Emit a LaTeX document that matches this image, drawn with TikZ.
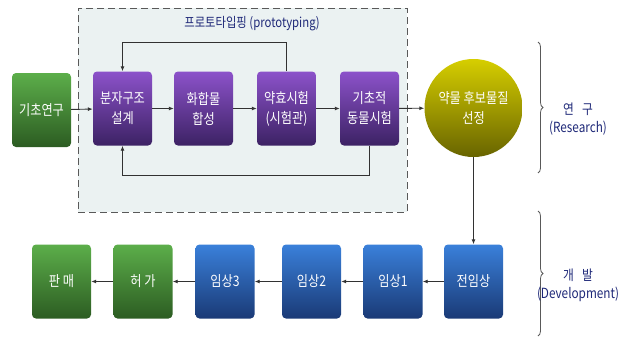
\documentclass[tikz,border=0pt]{standalone}
\usepackage{fontspec}
\setmainfont[FakeStretch=0.84]{Noto Sans CJK KR}
\usetikzlibrary{arrows.meta,decorations.pathreplacing,calc}
\definecolor{navy}{RGB}{30,40,120}
\definecolor{lnk}{RGB}{50,50,50}
\definecolor{protofill}{RGB}{235,242,242}
\tikzset{
  box/.style={rounded corners=4pt, minimum width=59pt, minimum height=74pt, inner sep=0pt,
     text=white, font=\fontsize{14.5}{20}\selectfont, align=center},
  purplebox/.style={box, top color={rgb,255:red,140;green,82;blue,202}, bottom color={rgb,255:red,60;green,34;blue,100}},
  greenbox/.style={box, top color={rgb,255:red,92;green,174;blue,74}, bottom color={rgb,255:red,44;green,92;blue,34}},
  bluebox/.style={box, top color={rgb,255:red,58;green,128;blue,218}, bottom color={rgb,255:red,26;green,58;blue,118}},
  link/.style={draw=lnk, line width=0.9pt, -{Latex[length=5pt,width=4pt]}},
  bracestyle/.style={draw=black!65, line width=0.8pt, decorate, decoration={brace, amplitude=5pt}},
  sidelabel/.style={text=navy, font=\fontsize{14}{18}\selectfont, align=center, inner sep=0pt},
}
\begin{document}
\begin{tikzpicture}[x=1pt,y=-1pt]
\useasboundingbox (0,0) rectangle (627,338);
% prototyping region
\node[draw=black!65, fill=protofill, line width=1pt, dash pattern=on 7pt off 4pt,
      minimum width=329pt, minimum height=204pt, inner sep=0pt] (proto) at (242.5,110) {};
\node[text=navy, font=\fontsize{13.5}{16}\selectfont, inner sep=0pt] (ptitle) at (252,24) {프로토타입핑 (prototyping)};
% top row
\node[greenbox] (basic) at (41.5,110) {기초연구};
\node[purplebox] (design) at (122.5,108.5) {분자구조\\설계};
\node[purplebox] (synth) at (203.5,108.5) {화합물\\합성};
\node[purplebox] (eff) at (286.5,108.5) {약효시험\\(시험관)};
\node[purplebox] (animal) at (369.5,108.5) {기초적\\동물시험};
\node[circle, minimum size=98pt, inner sep=0pt, text=white, font=\fontsize{14.5}{20}\selectfont, align=center,
      top color={rgb,255:red,214;green,206;blue,0}, bottom color={rgb,255:red,104;green,100;blue,0}] (cand) at (473.5,108) {약물 후보물질\\선정};
% bottom row
\node[bluebox] (pre) at (473.5,281.5) {전임상};
\node[bluebox] (c1) at (393,281.5) {임상1};
\node[bluebox] (c2) at (311.5,281.5) {임상2};
\node[bluebox] (c3) at (225,281.5) {임상3};
\node[greenbox] (perm) at (143,281.5) {허 가};
\node[greenbox] (sale) at (61.5,281.5) {판 매};
% connectors
\draw[link] (basic) -- (design);
\draw[link] (design) -- (synth);
\draw[link] (synth) -- (eff);
\draw[link] (eff) -- (animal);
\draw[link] (animal) -- (cand);
\draw[link] (eff.north) -- ++(0,-29) -| (design.north);
\draw[link] (animal.south) -- ++(0,30) -| (design.south);
\draw[link] (cand.south) -- (pre.north);
\draw[link] (pre) -- (c1);
\draw[link] (c1) -- (c2);
\draw[link] (c2) -- (c3);
\draw[link] (c3) -- (perm);
\draw[link] (perm) -- (sale);
% braces
\coordinate (rb1) at (538,42);
\coordinate (rb2) at (538,173);
\coordinate (db1) at (538,211);
\coordinate (db2) at (538,336);
\draw[bracestyle] (rb1) -- (rb2);
\draw[bracestyle] (db1) -- (db2);
\node[sidelabel] (res) at (578,119) {연\hspace{8pt}구\\(Research)};
\node[sidelabel] (dev) at (578,285) {개\hspace{8pt}발\\(Development)};
\end{tikzpicture}
\end{document}
